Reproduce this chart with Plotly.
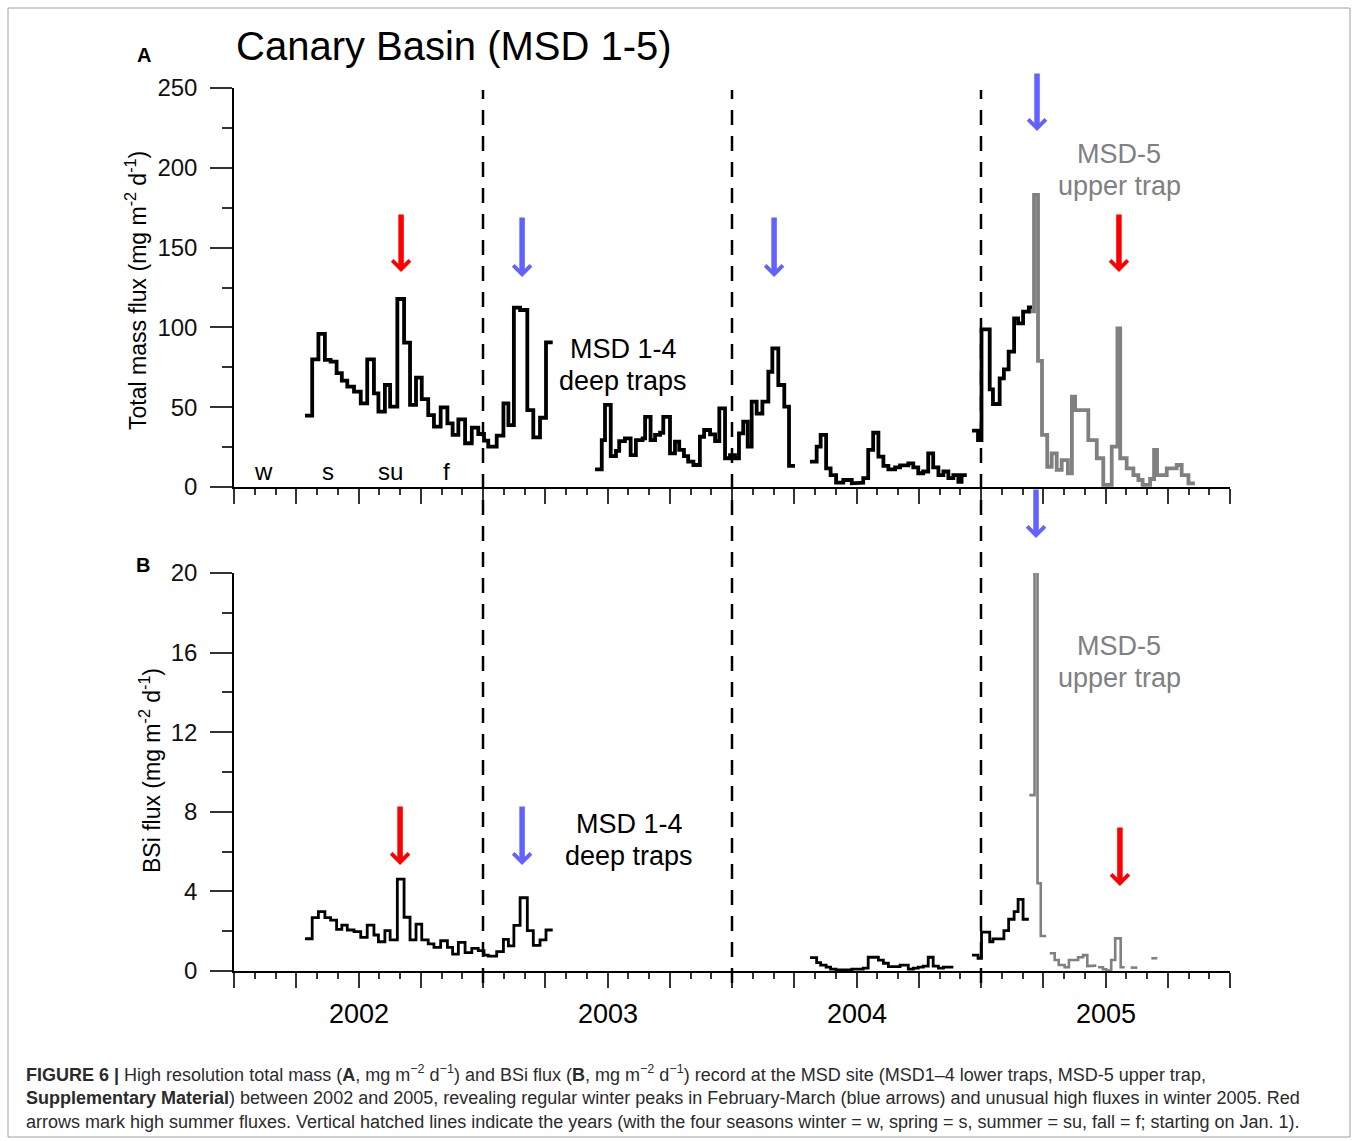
import plotly.graph_objects as go

# ---------------- data (decimal years / fluxes) ----------------
# MSD 1-4 deep traps : sample interval edges for each deployment
t_dep1 = [2002.285, 2002.314, 2002.339, 2002.365, 2002.388, 2002.412, 2002.433, 2002.455, 2002.482,
          2002.509, 2002.535, 2002.562, 2002.580, 2002.606, 2002.627, 2002.656, 2002.683, 2002.707,
          2002.731, 2002.754, 2002.780, 2002.803, 2002.830, 2002.857, 2002.878, 2002.901, 2002.928,
          2002.955, 2002.981, 2003.004, 2003.021, 2003.055, 2003.082, 2003.102, 2003.124, 2003.149,
          2003.178, 2003.202, 2003.229, 2003.253, 2003.280]
t_dep2 = [2003.450, 2003.477, 2003.490, 2003.513, 2003.534, 2003.547, 2003.570, 2003.593, 2003.614,
          2003.641, 2003.651, 2003.673, 2003.691, 2003.711, 2003.724, 2003.751, 2003.771, 2003.788,
          2003.807, 2003.824, 2003.845, 2003.871, 2003.888, 2003.912, 2003.932, 2003.949, 2003.972,
          2003.992, 2004.012, 2004.028, 2004.045, 2004.063, 2004.079, 2004.099, 2004.122, 2004.146,
          2004.162, 2004.186, 2004.210, 2004.229, 2004.253]
t_dep3 = [2004.313, 2004.340, 2004.356, 2004.378, 2004.396, 2004.418, 2004.447, 2004.481, 2004.501,
          2004.527, 2004.547, 2004.567, 2004.588, 2004.608, 2004.628, 2004.655, 2004.675, 2004.708,
          2004.728, 2004.748, 2004.768, 2004.788, 2004.808, 2004.829, 2004.849, 2004.869, 2004.889,
          2004.909, 2004.922, 2004.943]
t_dep4 = [2004.964, 2004.988, 2005.002, 2005.035, 2005.048, 2005.075, 2005.092, 2005.111, 2005.133,
          2005.149, 2005.169, 2005.192, 2005.205]

# Total mass flux (mg m-2 d-1), MSD 1-4
mass_dep1 = [44.7, 80, 96, 79.6, 78.5, 71.4, 66.6, 62.9, 59.7, 52.4, 80, 58.7, 47.2, 63.9, 50.3,
             117.8, 90.4, 51.4, 68.5, 55, 45, 37.8, 49.9, 39.9, 32.6, 42.4, 27.4, 37.2, 33.2, 29,
             25.3, 32.2, 52.4, 38.8, 112.4, 110.9, 48.2, 31.1, 43.4, 90.6]
mass_dep2 = [11.1, 29.4, 51.4, 19.4, 22.6, 28.8, 30.5, 20, 29.4, 30.5, 44, 29.4, 32.6, 34, 44,
             21.1, 28.4, 23.2, 19.4, 15.9, 13.8, 31.5, 35.7, 33, 28.8, 49.3, 18, 20, 18, 33.6,
             40.9, 25.3, 53.5, 46, 53.5, 72.2, 86.9, 63.9, 50.3, 13.2]
mass_dep3 = [15.9, 25.3, 32.6, 11.7, 7.5, 2.7, 4.4, 2.3, 2.7, 5.6, 23.2, 34, 19, 13.2, 11.1, 12.3,
             13.5, 14.8, 12.3, 8.6, 9.7, 21.1, 12.3, 7.5, 9.7, 5.6, 7.5, 3.3, 7.5]
mass_dep4 = [35.3, 29.4, 98.8, 61.2, 52, 68.1, 73.7, 84.8, 105.7, 102.5, 109.9, 112.6]

# BSi flux (mg m-2 d-1), MSD 1-4 (None = no data)
bsi_dep1 = [1.62, 2.68, 2.98, 2.68, 2.56, 2.09, 2.31, 2.06, 1.98, 1.69, 2.31, 1.81, 1.47, 2.03, 1.56,
            4.62, 2.70, 1.56, 2.36, 1.56, 1.36, 1.19, 1.52, 1.19, 0.85, 1.44, 0.92, 1.14, 1.02, 0.80,
            0.75, 0.97, 1.59, 1.26, 2.29, 3.68, 2.03, 1.29, 1.56, 2.06]
bsi_dep3 = [0.67, 0.42, 0.30, 0.19, 0.09, 0.05, 0.05, 0.09, 0.09, 0.14, 0.69, 0.69, 0.55, 0.39, 0.22,
            0.22, 0.30, 0.09, 0.14, 0.19, 0.25, 0.69, 0.25, 0.14, 0.19, 0.19, None, None, None]
bsi_dep4 = [0.80, 0.64, 1.95, 1.47, 1.61, 1.61, 2.03, 2.60, 2.98, 3.60, 2.60, None]

# MSD-5 upper trap
t_up_mass = [2005.192, 2005.213, 2005.229, 2005.245, 2005.266, 2005.284, 2005.304, 2005.324, 2005.349,
             2005.365, 2005.378, 2005.431, 2005.465, 2005.491, 2005.525, 2005.548, 2005.559, 2005.585,
             2005.612, 2005.632, 2005.649, 2005.679, 2005.695, 2005.707, 2005.746, 2005.786, 2005.806,
             2005.833, 2005.859]
mass_up = [110, 183, 79, 32.6, 12.7, 21.1, 10.7, 16.9, 8.6, 56.6, 48.2, 29.4, 18, 1.3, 25.3, 99.4,
           18, 11.7, 7.5, 4.4, 1.3, 5, 23.2, 7.5, 11.7, 13.8, 7.5, 2.3]
t_up_bsi = [2005.194, 2005.215, 2005.227, 2005.240, 2005.262, 2005.276, 2005.296, 2005.312, 2005.336,
            2005.353, 2005.390, 2005.410, 2005.427, 2005.441, 2005.463, 2005.470, 2005.490, 2005.503,
            2005.523, 2005.539, 2005.561, 2005.577, 2005.601, 2005.628, 2005.684, 2005.708]
bsi_up = [8.84, 21.2, 4.41, 1.76, None, 0.89, 0.55, 0.30, 0.19, 0.55, 0.69, 0.80, 0.25, 0.27, None,
          0.19, 0.09, 0.02, 0.55, 1.64, 0.19, None, 0.17, None, 0.64]

year_labels = ["2002", "2003", "2004", "2005"]
year_starts = [2002, 2003, 2004, 2005]
season_labels = ["w", "s", "su", "f"]
season_pos = [2002.12, 2002.378, 2002.627, 2002.855]

# arrows: (x in years, kind)
arrows_a = [(2002.671, "red"), (2003.157, "blue"), (2004.169, "blue"), (2005.225, "blue_top"), (2005.554, "red")]
arrows_b = [(2002.667, "red"), (2003.157, "blue"), (2005.221, "blue_top"), (2005.558, "red")]

# ---------------- layout geometry ----------------
W, H = 1358, 1141
ML, MR, MT, MB = 234, 128, 88, 170
PW, PH = W - ML - MR, H - MT - MB


def px(x):
    return (x - ML) / PW


def py(y):
    return (H - MB - y) / PH


FONT = "Liberation Sans, Arial, Helvetica, sans-serif"
BLACK = "#000000"
GREY = "#808080"
RED = "#ff0000"
BLUE = "#6262ff"


def step_xy(edges, values):
    xs, ys = [], []
    for i, v in enumerate(values):
        if v is None:
            xs.append(None)
            ys.append(None)
            continue
        xs += [edges[i], edges[i + 1]]
        ys += [v, v]
    return xs, ys


def combine(pairs):
    X, Y = [], []
    for e, v in pairs:
        x, y = step_xy(e, v)
        if X:
            X.append(None)
            Y.append(None)
        X += x
        Y += y
    return X, Y


fig = go.Figure()

# Panel A
xg, yg = step_xy(t_up_mass, mass_up)
fig.add_trace(go.Scatter(x=xg, y=yg, mode="lines", line=dict(color=GREY, width=3.8),
                         xaxis="x", yaxis="y", showlegend=False, hoverinfo="skip"))
xb, yb = combine([(t_dep1, mass_dep1), (t_dep2, mass_dep2), (t_dep3, mass_dep3), (t_dep4, mass_dep4)])
fig.add_trace(go.Scatter(x=xb, y=yb, mode="lines", line=dict(color=BLACK, width=3.8),
                         xaxis="x", yaxis="y", showlegend=False, hoverinfo="skip"))

# Panel B
xg2, yg2 = step_xy(t_up_bsi, bsi_up)
fig.add_trace(go.Scatter(x=xg2, y=yg2, mode="lines", line=dict(color=GREY, width=2.6),
                         xaxis="x2", yaxis="y2", showlegend=False, hoverinfo="skip"))
xb2, yb2 = combine([(t_dep1, bsi_dep1), (t_dep3, bsi_dep3), (t_dep4, bsi_dep4)])
fig.add_trace(go.Scatter(x=xb2, y=yb2, mode="lines", line=dict(color=BLACK, width=2.8),
                         xaxis="x2", yaxis="y2", showlegend=False, hoverinfo="skip"))

xaxis_common = dict(range=[2002, 2006], showline=True, linecolor=BLACK, linewidth=1.5,
                    ticks="outside", tickmode="linear", tick0=2002, dtick=0.25, ticklen=15,
                    tickwidth=1.5, tickcolor="#333333", showticklabels=False, showgrid=False,
                    zeroline=False,
                    minor=dict(ticks="outside", tickmode="linear", tick0=2002, dtick=1 / 12,
                               ticklen=6, tickwidth=1.5, tickcolor="#333333", showgrid=False))
yaxis_common = dict(showline=True, linecolor=BLACK, linewidth=1.5, ticks="outside", ticklen=22,
                    tickwidth=1.5, tickcolor="#333333", showgrid=False, zeroline=False,
                    tickfont=dict(family=FONT, size=24, color="#111111"), ticklabelstandoff=8)

fig.update_layout(
    width=W, height=H, autosize=False,
    margin=dict(l=ML, r=MR, t=MT, b=MB, pad=0),
    paper_bgcolor="white", plot_bgcolor="white",
    font=dict(family=FONT, color=BLACK),
    xaxis=dict(domain=[0, 1], anchor="y", **xaxis_common),
    xaxis2=dict(domain=[0, 1], anchor="y2", **xaxis_common),
    yaxis=dict(domain=[py(487), 1], anchor="x", range=[0, 250], tickmode="linear", tick0=0, dtick=50,
               minor=dict(ticks="outside", tickmode="linear", tick0=0, dtick=25, ticklen=10,
                          tickwidth=1.5, tickcolor="#333333", showgrid=False),
               **yaxis_common),
    yaxis2=dict(domain=[0, py(573)], anchor="x2", range=[0, 20], tickmode="linear", tick0=0, dtick=4,
                minor=dict(ticks="outside", tickmode="linear", tick0=0, dtick=2, ticklen=10,
                           tickwidth=1.5, tickcolor="#333333", showgrid=False),
                **yaxis_common),
)

shapes = []
# outer frame
shapes.append(dict(type="rect", xref="paper", yref="paper", x0=px(8), x1=px(1350), y0=py(1137), y1=py(8),
                   line=dict(color="#a0a0a0", width=1), fillcolor="rgba(0,0,0,0)", layer="below"))
# year separators (Jan 1)
for yr in year_starts[1:]:
    shapes.append(dict(type="line", xref="x", yref="paper", x0=yr, x1=yr, y0=py(983), y1=py(90),
                       line=dict(color=BLACK, width=2.5, dash="15px,11px")))
fig.update_layout(shapes=shapes)

ann = []
# title and panel letters
ann.append(dict(text="Canary Basin (MSD 1-5)", xref="paper", yref="paper", x=px(234), y=py(46),
                xanchor="left", yanchor="middle", showarrow=False, font=dict(size=40, color=BLACK)))
ann.append(dict(text="<b>A</b>", xref="paper", yref="paper", x=px(144), y=py(55),
                xanchor="center", yanchor="middle", showarrow=False, font=dict(size=20, color=BLACK)))
ann.append(dict(text="<b>B</b>", xref="paper", yref="paper", x=px(143), y=py(565),
                xanchor="center", yanchor="middle", showarrow=False, font=dict(size=20, color=BLACK)))
# axis titles
ann.append(dict(text="Total mass flux (mg m<sup>-2</sup> d<sup>-1</sup>)", xref="paper", yref="paper",
                x=px(136), y=py(291), textangle=-90, xanchor="center", yanchor="middle",
                showarrow=False, font=dict(size=23, color=BLACK)))
ann.append(dict(text="BSi flux (mg m<sup>-2</sup> d<sup>-1</sup>)", xref="paper", yref="paper",
                x=px(150), y=py(771), textangle=-90, xanchor="center", yanchor="middle",
                showarrow=False, font=dict(size=23, color=BLACK)))
# year labels under panel B
for lab, yr in zip(year_labels, year_starts):
    ann.append(dict(text=lab, xref="x2", yref="paper", x=yr + 0.5, y=py(1014), xanchor="center",
                    yanchor="middle", showarrow=False, font=dict(size=27, color=BLACK)))
# season labels
for lab, xs in zip(season_labels, season_pos):
    ann.append(dict(text=lab, xref="x", yref="y", x=xs, y=10, xanchor="center", yanchor="middle",
                    showarrow=False, font=dict(size=24, color=BLACK)))
# trap labels
for (cx, y1, y2, col, l1, l2) in [
    (623, 349, 381, BLACK, "MSD 1-4", "deep traps"),
    (629, 824, 856, BLACK, "MSD 1-4", "deep traps"),
    (1119, 154, 186, GREY, "MSD-5", "upper trap"),
    (1119, 646, 678, GREY, "MSD-5", "upper trap"),
]:
    for t, yy in [(l1, y1), (l2, y2)]:
        ann.append(dict(text=t, xref="paper", yref="paper", x=px(cx), y=py(yy), xanchor="center",
                        yanchor="middle", showarrow=False, font=dict(size=27, color=col)))


def arrow(xv, tip, tail, col):
    return dict(text="", xref="x", yref="paper", x=xv, y=py(tip), ax=0, ay=tail - tip,
                showarrow=True, arrowhead=4, arrowsize=0.62, arrowwidth=5.5, arrowcolor=col)


for xv, kind in arrows_a:
    col = RED if kind == "red" else BLUE
    if kind == "blue_top":
        ann.append(arrow(xv, 131, 72, col))
    elif kind == "red":
        ann.append(arrow(xv, 272, 213, col))
    else:
        ann.append(arrow(xv, 277, 216, col))
for xv, kind in arrows_b:
    col = RED if kind == "red" else BLUE
    if kind == "blue_top":
        ann.append(arrow(xv, 538, 488, col))
    elif xv > 2005:
        ann.append(arrow(xv, 886, 826, col))
    else:
        ann.append(arrow(xv, 865, 805, col))

# caption
cap = [
    "<b>FIGURE 6 |</b> High resolution total mass (<b>A</b>, mg m<sup>\u22122</sup> d<sup>\u22121</sup>) and BSi flux "
    "(<b>B</b>, mg m<sup>\u22122</sup> d<sup>\u22121</sup>) record at the MSD site (MSD1\u20134 lower traps, MSD-5 upper trap,",
    "<b>Supplementary Material</b>) between 2002 and 2005, revealing regular winter peaks in February-March "
    "(blue arrows) and unusual high fluxes in winter 2005. Red",
    "arrows mark high summer fluxes. Vertical hatched lines indicate the years (with the four seasons "
    "winter = w, spring = s, summer = su, fall = f; starting on Jan. 1).",
]
for t, yy in zip(cap, [1073, 1098, 1122]):
    ann.append(dict(text=t, xref="paper", yref="paper", x=px(24), y=py(yy), xanchor="left",
                    yanchor="middle", showarrow=False, font=dict(size=18, color="#2b2b2b")))

fig.update_layout(annotations=ann)
fig.write_html("out.html")
